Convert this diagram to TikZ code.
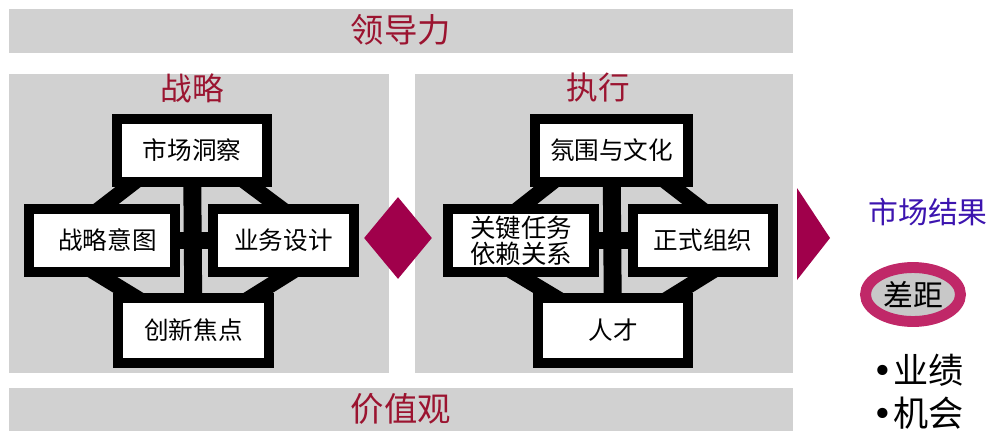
\documentclass[tikz,border=0pt]{standalone}
\usepackage{fontspec}
\newfontfamily\cjk{Noto Sans CJK SC}
\newfontfamily\dotfont{DejaVu Sans}
\usetikzlibrary{calc,backgrounds,shapes.geometric}

\definecolor{panelgray}{RGB}{209,209,209}
\definecolor{labelred}{RGB}{155,20,48}
\definecolor{maroon}{RGB}{160,0,75}
\definecolor{ringred}{RGB}{192,40,104}
\definecolor{ellgray}{RGB}{200,200,200}
\definecolor{resultblue}{RGB}{60,20,175}

\begin{document}
\begin{tikzpicture}[x=0.02cm, y=-0.02cm,
  panel node/.style={fill=panelgray, inner sep=0pt},
  box node/.style={draw, line width=5.7pt, fill=white, minimum height=1.26cm, inner sep=1pt, align=center, font=\cjk\fontsize{14}{17}\selectfont},
  head node/.style={text=labelred, font=\cjk\fontsize{18}{20}\selectfont},
  bar/.style={line width=10.2pt},
  band/.style={line width=8.8pt}]

\useasboundingbox (0,0) rectangle (995,430);

\begin{scope}[on background layer]
\node[panel node, minimum width=15.68cm, minimum height=0.88cm] (lead) at (401,31) {};
\node[panel node, minimum width=15.68cm, minimum height=0.88cm] (value) at (401,410) {};
\node[panel node, minimum width=7.6cm, minimum height=5.98cm] (strat) at (199,223.5) {};
\node[panel node, minimum width=7.56cm, minimum height=5.98cm] (exec) at (604,223.5) {};
\end{scope}

\node[head node, font=\cjk\fontsize{19}{21}\selectfont] (lead-t) at (401,30) {领导力};
\node[head node, font=\cjk\fontsize{19}{21}\selectfont] (value-t) at (401,409) {价值观};
\node[head node] (strat-t) at (192,88) {战略};
\node[head node] (exec-t) at (598,88) {执行};

% strategy side
\node[box node, minimum width=3cm] (s1) at (192,150.5) {市场洞察};
\node[box node, minimum width=2.92cm] (s2) at (102,240.5) {\ \ 战略意图};
\node[box node, minimum width=2.82cm] (s3) at (283.5,240.5) {业务设计};
\node[box node, minimum width=3.02cm, minimum height=1.3cm] (s4) at (193.5,330.5) {创新焦点};

% execution side
\node[box node, minimum width=3.06cm] (e1) at (611.5,150.5) {氛围与文化};
\node[box node, minimum width=2.92cm, font=\cjk\fontsize{14.5}{15}\selectfont] (e2) at (521,240.5) {关键任务\\依赖关系};
\node[box node, minimum width=2.8cm] (e3) at (703,240.5) {正式组织};
\node[box node, minimum width=3cm, minimum height=1.3cm] (e4) at (613,330.5) {人才};

\begin{scope}[on background layer]
\path[] (s1) [bar] edge (s4);
\path[] (s2) [bar] edge (s3);
\path[] ($(s1.south west)+(29,-10)$) [band] edge ($(s2.north)+(-9,10)$);
\path[] ($(s1.south east)+(-33,-10)$) [band] edge ($(s3.north)+(5,10)$);
\path[] ($(s2.south)+(-16,-10)$) [band] edge ($(s4.north west)+(32,10)$);
\path[] ($(s3.south)+(16,-10)$) [band] edge ($(s4.north east)+(-32,10)$);

\path[] (e1) [bar] edge (e4);
\path[] (e2) [bar] edge (e3);
\path[] ($(e1.south west)+(29,-10)$) [band] edge ($(e2.north)+(-9,10)$);
\path[] ($(e1.south east)+(-33,-10)$) [band] edge ($(e3.north)+(5,10)$);
\path[] ($(e2.south)+(-16,-10)$) [band] edge ($(e4.north west)+(32,10)$);
\path[] ($(e3.south)+(16,-10)$) [band] edge ($(e4.north east)+(-32,10)$);
\end{scope}

% arrows between
\node[diamond, fill=maroon, minimum width=1.36cm, minimum height=1.64cm, inner sep=0pt] (link) at (398,238) {};
\fill[maroon] (797,188) -- (830,238) -- (797,280) -- cycle;

% result
\node[text=resultblue, font=\cjk\fontsize{17}{19}\selectfont] (result) at (928,212) {市场结果};
\node[ellipse, draw=ringred, line width=6.2pt, fill=ellgray, minimum width=1.9cm, minimum height=1.08cm, inner sep=0pt, font=\cjk\fontsize{17}{19}\selectfont] (gap) at (913,294.5) {差距};
\node[anchor=west, inner sep=0pt, font=\cjk\fontsize{20}{22}\selectfont] (perf) at (872,370) {{\dotfont •}业绩};
\node[anchor=west, inner sep=0pt, font=\cjk\fontsize{20}{22}\selectfont] (chance) at (872,413) {{\dotfont •}机会};
\end{tikzpicture}
\end{document}
